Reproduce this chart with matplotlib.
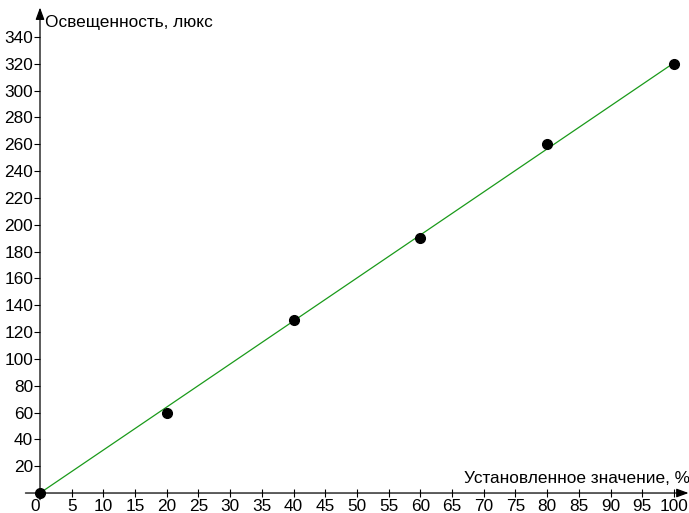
import numpy as np
import matplotlib.pyplot as plt

# значения
setting = [0, 20, 40, 60, 80, 100]
lux = [0, 60, 129, 190, 260, 320]
x_ticks = list(range(0, 101, 5))
y_ticks = list(range(20, 341, 20))

plt.rcParams['font.family'] = ['Liberation Sans', 'DejaVu Sans']
plt.rcParams['font.size'] = 12.4

fig = plt.figure(figsize=(6.89, 5.13), dpi=100)
ax = fig.add_axes([0, 0, 1, 1])
ax.set_xlim(-6.31, 102.37)
ax.set_ylim(-14.9, 367.6)

for s in ax.spines.values():
    s.set_visible(False)
ax.spines['bottom'].set_position(('data', 0))
ax.spines['left'].set_position(('data', 0))

# оси со стрелками
arrow = dict(arrowstyle='-|>,head_length=0.6,head_width=0.22', color='black',
             lw=0.9, shrinkA=0, shrinkB=0, mutation_scale=12)
ax.annotate('', xy=(102.3, 0), xytext=(-2.3, 0), arrowprops=arrow, annotation_clip=False)
ax.annotate('', xy=(0, 362), xytext=(0, -5), arrowprops=arrow, annotation_clip=False)

# линия тренда через начало координат
x = np.array(setting, dtype=float)
y = np.array(lux, dtype=float)
k = (x * y).sum() / (x * x).sum()
ax.plot([0, 100], [0, 100 * k], color='#1a9a1a', lw=0.9, zorder=2)
ax.plot(setting, lux, 'o', color='black', ms=7, zorder=3)

ax.set_xticks(x_ticks)
ax.set_xticklabels([str(t) for t in x_ticks])
ax.set_yticks(y_ticks)
ax.tick_params(axis='x', direction='inout', length=6, width=0.8, pad=1)
ax.tick_params(axis='y', direction='out', length=4, width=0.8, pad=1)
lbl0 = ax.get_xticklabels()[0]
lbl0.set_horizontalalignment('right')

ax.text(0.8, 351, 'Освещенность, люкс', ha='left', va='center')
ax.text(102.5, 5, 'Установленное значение, %', ha='right', va='bottom')

fig.savefig('out.png', dpi=100)
